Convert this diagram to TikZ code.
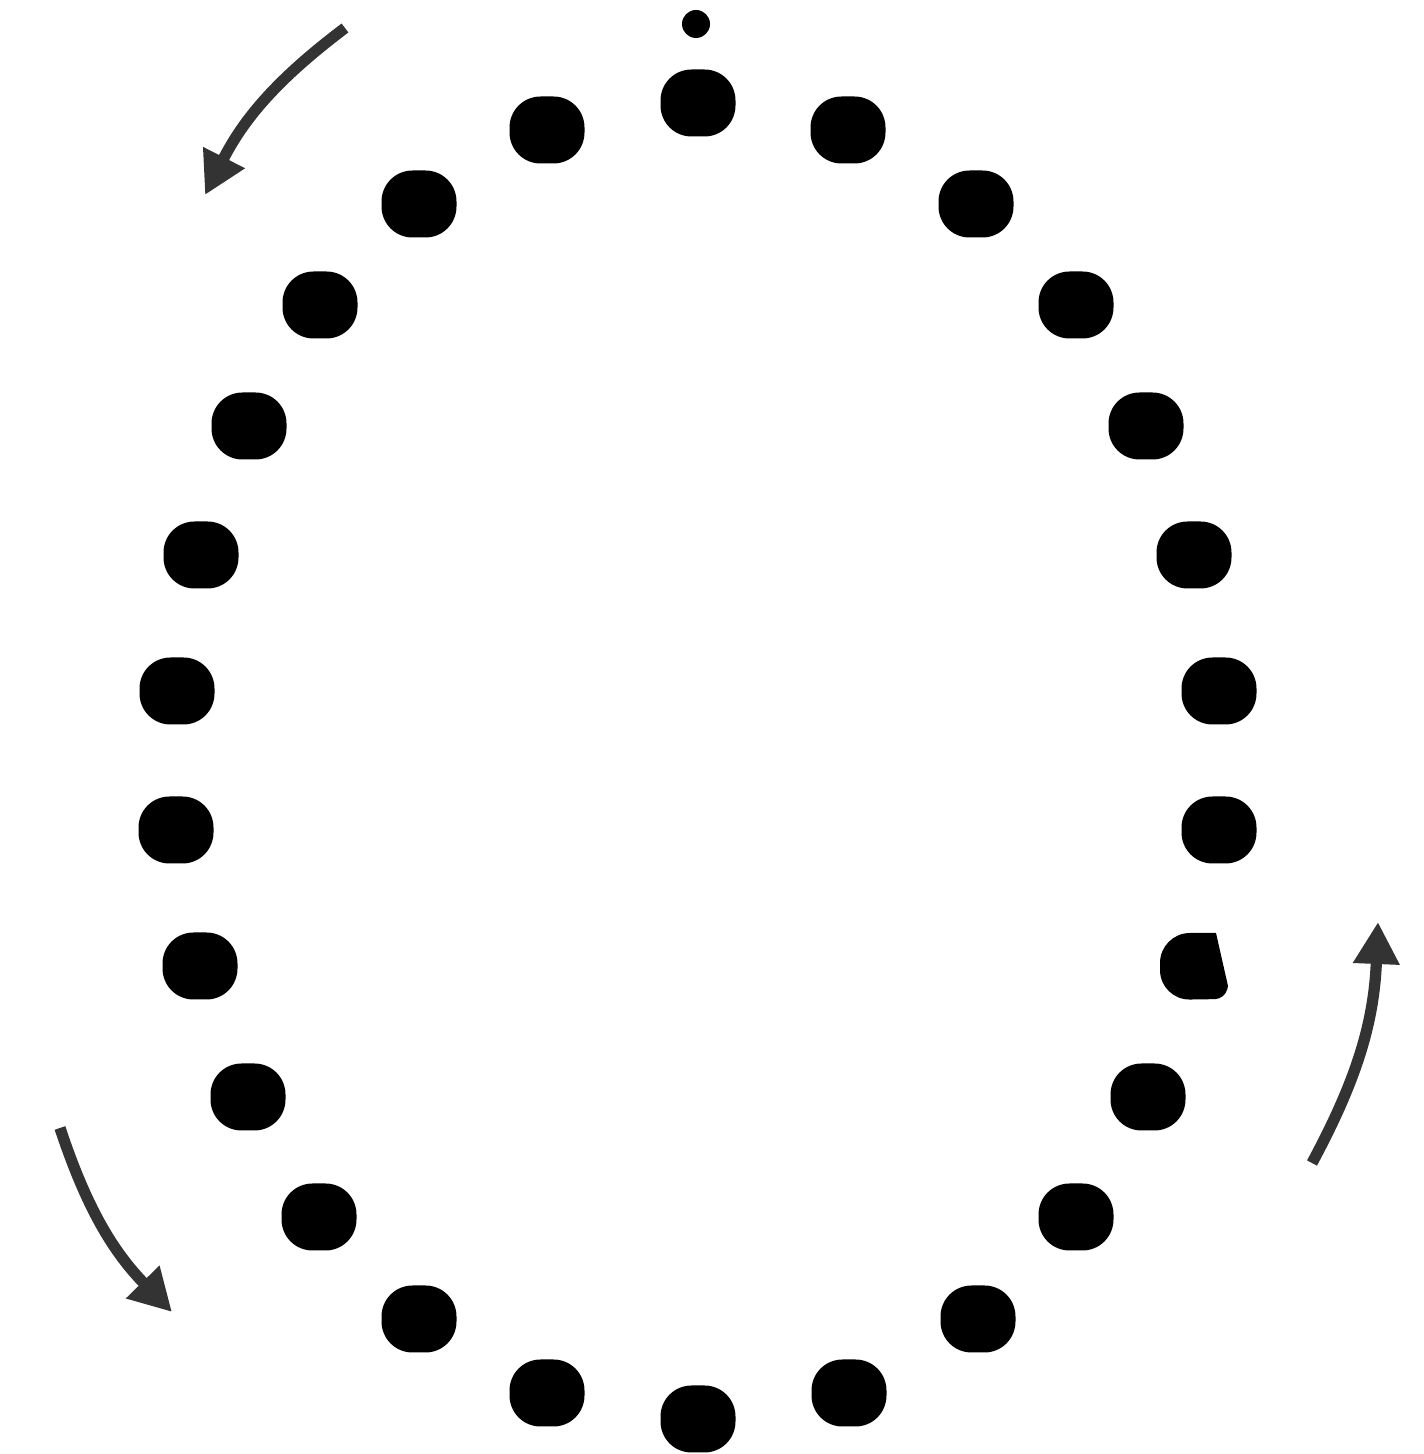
\documentclass[tikz,border=0pt]{standalone}
\usetikzlibrary{arrows.meta}
\tikzset{
  bead/.style={fill=black,rounded corners=0.31cm,minimum width=0.75cm,minimum height=0.67cm,inner sep=0pt},
  turn/.style={black!80,line width=3.2pt,-{Triangle[length=0.42cm,width=0.44cm]},bend right=13}
}
\begin{document}
\begin{tikzpicture}
        \useasboundingbox (0,0) rectangle (14.24,14.54);
        % Small dot on top
        \fill (6.96,14.30) circle (0.14);
        % Beads round the ring
        \foreach \x/\y [count=\i] in {6.98/13.51,5.47/13.24,4.19/12.50,3.20/11.49,2.49/10.28,2.01/8.99,1.77/7.63,1.76/6.24,2.00/4.88,2.48/3.57,3.19/2.37,4.19/1.35,5.47/0.61,6.98/0.35,8.49/0.61,9.78/1.35,10.76/2.37,11.48/3.57,12.19/6.24,12.19/7.63,11.94/8.99,11.46/10.28,10.76/11.49,9.76/12.50,8.48/13.24}
            \node[bead] (b\i) at (\x,\y) {};
        % Bead with the cut edge
        \fill (12.16,5.21) -- (12.28,4.68) [rounded corners=0.10cm] -- (12.25,4.55)
              [rounded corners=0.30cm] -- (11.60,4.54) -- (11.60,5.21) [sharp corners] -- (12.16,5.21) -- cycle;
        % Arrows
        \coordinate (t1) at (3.45,14.26);
        \coordinate (h1) at (2.05,12.59);
        \coordinate (t2) at (0.60,3.26);
        \coordinate (h2) at (1.72,1.42);
        \coordinate (t3) at (13.12,2.91);
        \coordinate (h3) at (13.78,5.32);
        \draw[turn] (t1) to (h1);
        \draw[turn] (t2) to (h2);
        \draw[turn] (t3) to (h3);
    \end{tikzpicture}
\end{document}
